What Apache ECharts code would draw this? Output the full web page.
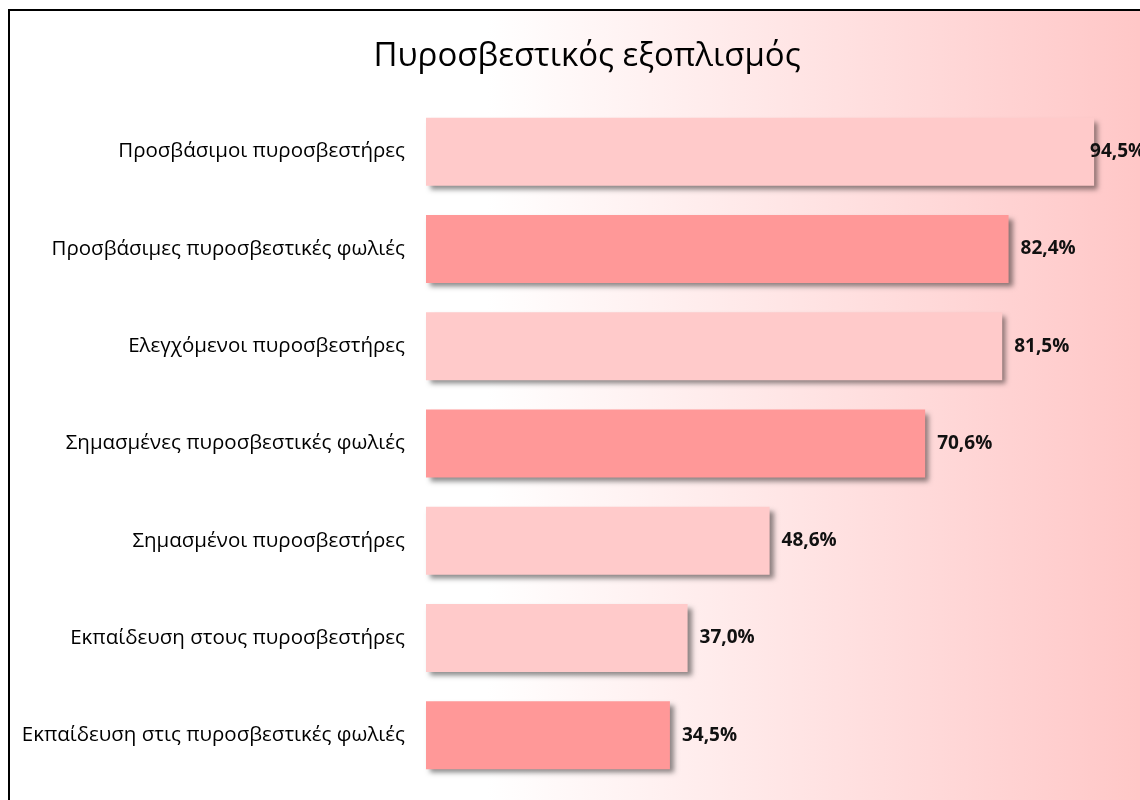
<!DOCTYPE html>
<html>
<head>
<meta charset="utf-8">
<script src="https://cdn.jsdelivr.net/npm/echarts@6/dist/echarts.min.js"></script>
<style>
  html, body { margin: 0; padding: 0; background: #fff; overflow: hidden; }
  #chart { width: 1140px; height: 800px; }
</style>
</head>
<body>
<div id="chart"></div>
<script>
const categories = [
  'Προσβάσιμοι πυροσβεστήρες',
  'Προσβάσιμες πυροσβεστικές φωλιές',
  'Ελεγχόμενοι πυροσβεστήρες',
  'Σημασμένες πυροσβεστικές φωλιές',
  'Σημασμένοι πυροσβεστήρες',
  'Εκπαίδευση στους πυροσβεστήρες',
  'Εκπαίδευση στις πυροσβεστικές φωλιές'
]
const values = [94.5, 82.4, 81.5, 70.6, 48.6, 37.0, 34.5]

// light / dark pink, as in the original
const barColors = ['#ffcaca', '#ff9898', '#ffcaca', '#ff9898', '#ffcaca', '#ffcaca', '#ff9898']

const fmt = (v) => v.toFixed(1).replace('.', ',') + '%'

const chart = echarts.init(document.getElementById('chart'))

const option = {
  animation: false,
  backgroundColor: '#fff',
  title: {
    text: 'Πυροσβεστικός εξοπλισμός',
    left: 582,
    textAlign: 'center',
    top: 35,
    textStyle: {
      fontFamily: 'Open Sans',
      fontSize: 33,
      fontWeight: 500,
      color: '#000'
    }
  },
  graphic: [{
    type: 'rect',
    z: -10,
    silent: true,
    shape: { x: 9, y: 10, width: 1140, height: 800 },
    style: {
      fill: new echarts.graphic.LinearGradient(0, 0, 1, 0, [
        { offset: 0, color: '#ffffff' },
        { offset: 0.42, color: '#ffffff' },
        { offset: 1, color: '#ffc6c6' }
      ]),
      stroke: '#000',
      lineWidth: 2
    }
  }],
  grid: {
    left: 426,
    right: 7,
    top: 103,
    height: 681
  },
  xAxis: {
    type: 'value',
    min: 0,
    max: 100,
    show: false
  },
  yAxis: {
    type: 'category',
    data: categories,
    inverse: true,
    axisLine: { show: false },
    axisTick: { show: false },
    axisLabel: {
      margin: 21,
      fontFamily: 'Open Sans',
      fontSize: 20.5,
      fontWeight: 500,
      color: '#000'
    }
  },
  series: [{
    type: 'bar',
    barWidth: 68,
    data: values.map((v, i) => ({
      value: v,
      itemStyle: { color: barColors[i] },
      label: i === 0 ? { offset: [-16, 0] } : {}
    })),
    itemStyle: {
      shadowColor: 'rgba(0,0,0,0.45)',
      shadowBlur: 5,
      shadowOffsetX: 4,
      shadowOffsetY: 4
    },
    label: {
      show: true,
      position: 'right',
      distance: 12,
      formatter: (p) => fmt(p.value),
      fontFamily: 'Open Sans',
      fontSize: 19,
      fontWeight: 'bold',
      color: '#111'
    }
  }]
}

chart.setOption(option)
</script>
</body>
</html>
